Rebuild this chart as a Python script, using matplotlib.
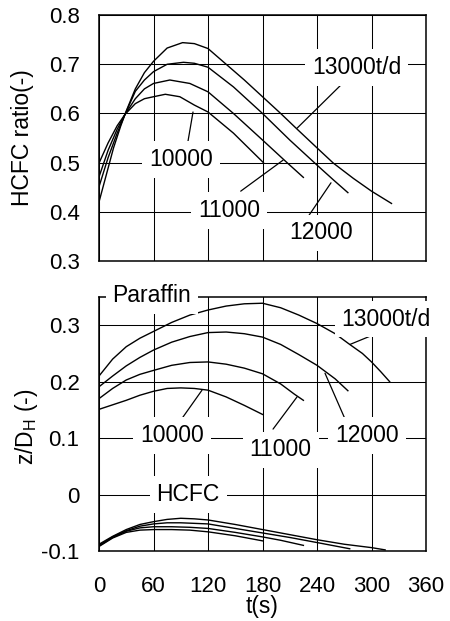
import matplotlib
matplotlib.use("Agg")
import matplotlib.pyplot as plt

plt.rcParams["font.family"] = ["Liberation Sans", "DejaVu Sans"]
plt.rcParams["mathtext.fontset"] = "custom"
plt.rcParams["mathtext.rm"] = "Liberation Sans"
plt.rcParams["font.size"] = 16.5

rates = ["10000", "11000", "12000", "13000t/d"]

# HCFC ratio vs time, one curve per throughput
ratio_t = [
    [0, 10, 20, 28.6, 40, 50, 60, 73, 89, 105, 120, 148, 181],
    [0, 10, 20, 28.6, 40, 50, 60, 78, 100, 120, 148, 180, 207, 225],
    [0, 10, 20, 28.6, 40, 50, 60, 75, 93, 105, 120, 148, 180, 210, 240, 258, 274],
    [0, 8, 16, 24, 30, 40, 50, 60, 75, 92, 105, 120, 140, 160, 180, 200, 217, 240, 258, 280, 300, 322],
]
ratio_v = [
    [0.499, 0.54, 0.575, 0.598, 0.620, 0.630, 0.634, 0.639, 0.634, 0.617, 0.603, 0.560, 0.500],
    [0.471, 0.525, 0.568, 0.598, 0.630, 0.650, 0.661, 0.668, 0.661, 0.644, 0.600, 0.546, 0.500, 0.470],
    [0.451, 0.51, 0.56, 0.598, 0.645, 0.668, 0.685, 0.700, 0.704, 0.702, 0.694, 0.654, 0.600, 0.546, 0.495, 0.465, 0.439],
    [0.42, 0.475, 0.53, 0.575, 0.605, 0.65, 0.683, 0.706, 0.733, 0.744, 0.742, 0.732, 0.700, 0.668, 0.634, 0.600, 0.570, 0.530, 0.499, 0.468, 0.442, 0.417],
]

# interface height z/DH, paraffin side
par_t = [
    [0, 15, 30, 45, 60, 75, 90, 105, 120, 140, 160, 180],
    [0, 15, 30, 45, 60, 80, 100, 120, 140, 160, 180, 200, 215, 225],
    [0, 15, 30, 45, 60, 80, 100, 120, 140, 160, 180, 200, 220, 240, 260, 274],
    [0, 15, 30, 45, 60, 80, 100, 120, 140, 160, 180, 200, 220, 240, 260, 276, 290, 300, 310, 320],
]
par_v = [
    [0.151, 0.159, 0.167, 0.176, 0.183, 0.188, 0.189, 0.188, 0.185, 0.173, 0.158, 0.142],
    [0.170, 0.188, 0.203, 0.213, 0.220, 0.229, 0.234, 0.235, 0.231, 0.224, 0.214, 0.196, 0.178, 0.167],
    [0.191, 0.21, 0.228, 0.243, 0.256, 0.270, 0.280, 0.287, 0.288, 0.285, 0.279, 0.266, 0.248, 0.229, 0.205, 0.184],
    [0.21, 0.24, 0.262, 0.277, 0.289, 0.305, 0.318, 0.327, 0.334, 0.338, 0.339, 0.331, 0.318, 0.303, 0.285, 0.266, 0.25, 0.235, 0.218, 0.20],
]

# interface height z/DH, HCFC side
hcfc_t = [
    [0, 15, 30, 45, 60, 80, 100, 120, 150, 180],
    [0, 15, 30, 45, 60, 80, 100, 120, 150, 180, 200, 225],
    [0, 15, 30, 45, 60, 75, 90, 105, 120, 150, 180, 210, 240, 276],
    [0, 15, 30, 45, 60, 75, 90, 105, 120, 150, 180, 210, 240, 270, 300, 315],
]
hcfc_v = [
    [-0.092, -0.077, -0.067, -0.063, -0.062, -0.062, -0.063, -0.066, -0.073, -0.082],
    [-0.091, -0.076, -0.065, -0.059, -0.057, -0.057, -0.058, -0.060, -0.067, -0.075, -0.081, -0.090],
    [-0.090, -0.075, -0.064, -0.056, -0.052, -0.050, -0.050, -0.051, -0.052, -0.060, -0.068, -0.076, -0.085, -0.096],
    [-0.088, -0.074, -0.062, -0.053, -0.048, -0.044, -0.042, -0.043, -0.045, -0.053, -0.062, -0.071, -0.080, -0.088, -0.094, -0.098],
]

x_ticks = [0, 60, 120, 180, 240, 300, 360]

fig = plt.figure(figsize=(4.5, 6.21), dpi=100)
ax1 = fig.add_axes([0.22, 0.5797, 0.7267, 0.396])
ax2 = fig.add_axes([0.22, 0.1127, 0.7267, 0.409])

for ax in (ax1, ax2):
    ax.set_xlim(0, 360)
    ax.set_xticks(x_ticks)
    ax.grid(True, color="black", lw=0.75)
    ax.tick_params(length=0, pad=14, labelsize=16)
    ax.tick_params(axis="x", pad=18)
    for s in ax.spines.values():
        s.set_linewidth(1.1)
        s.set_zorder(3)

box = dict(boxstyle="square,pad=0.3", facecolor="white", edgecolor="none")
lead = dict(arrowstyle="-", color="black", lw=0.9, shrinkA=0, shrinkB=0)

# upper panel
for t, v in zip(ratio_t, ratio_v):
    ax1.plot(t, v, color="black", lw=1.0, zorder=2)
ax1.set_ylim(0.3, 0.8)
ax1.set_yticks([0.3, 0.4, 0.5, 0.6, 0.7, 0.8])
ax1.set_yticklabels(["0.3", "0.4", "0.5", "0.6", "0.7", "0.8"])
ax1.set_xticklabels([])
ax1.set_ylabel("HCFC ratio(-)")
ax1.yaxis.set_label_coords(-0.2, 0.5)

top_text = [(90.3, 0.507), (143, 0.402), (244.4, 0.357), (284, 0.694)]
top_lead = [((96.9, 0.532), (103.5, 0.603)),
            ((156, 0.442), (202.6, 0.505)),
            ((229, 0.387), (255.4, 0.459)),
            ((273, 0.670), (218, 0.570))]
for lab, (tx, ty), (p0, p1) in zip(rates, top_text, top_lead):
    ax1.annotate("", xy=p1, xytext=p0, arrowprops=lead, zorder=4)
    ax1.text(tx, ty, lab, ha="center", va="center", bbox=box, zorder=5)

# lower panel
for t, v in zip(par_t, par_v):
    ax2.plot(t, v, color="black", lw=1.0, zorder=2)
for t, v in zip(hcfc_t, hcfc_v):
    ax2.plot(t, v, color="black", lw=1.0, zorder=2)
ax2.set_ylim(-0.1, 0.35)
ax2.set_yticks([-0.1, 0, 0.1, 0.2, 0.3])
ax2.set_yticklabels(["-0.1", "0", "0.1", "0.2", "0.3"])
ax2.set_xticklabels([str(x) for x in x_ticks])
ax2.set_ylabel("z/D$_\\mathrm{H}$ (-)")
ax2.yaxis.set_label_coords(-0.18, 0.49)
ax2.set_xlabel("t(s)")
ax2.xaxis.set_label_coords(0.5, -0.175)

bot_text = [(80.4, 0.104), (200, 0.079), (295, 0.105), (316, 0.311)]
bot_lead = [((89.2, 0.130), (113.4, 0.185)),
            ((191.6, 0.116), (218, 0.173)),
            ((270.8, 0.134), (248.8, 0.215)),
            ((300.5, 0.282), (276.3, 0.266))]
for lab, (tx, ty), (p0, p1) in zip(rates, bot_text, bot_lead):
    ax2.annotate("", xy=p1, xytext=p0, arrowprops=lead, zorder=4)
    ax2.text(tx, ty, lab, ha="center", va="center", bbox=box, zorder=5)

ax2.text(58.3, 0.353, "Paraffin", ha="center", va="center", bbox=box,
         zorder=6, clip_on=False)
ax2.text(98, 0.0, "HCFC", ha="center", va="center", bbox=box, zorder=5)

fig.savefig("out.png", dpi=100)
